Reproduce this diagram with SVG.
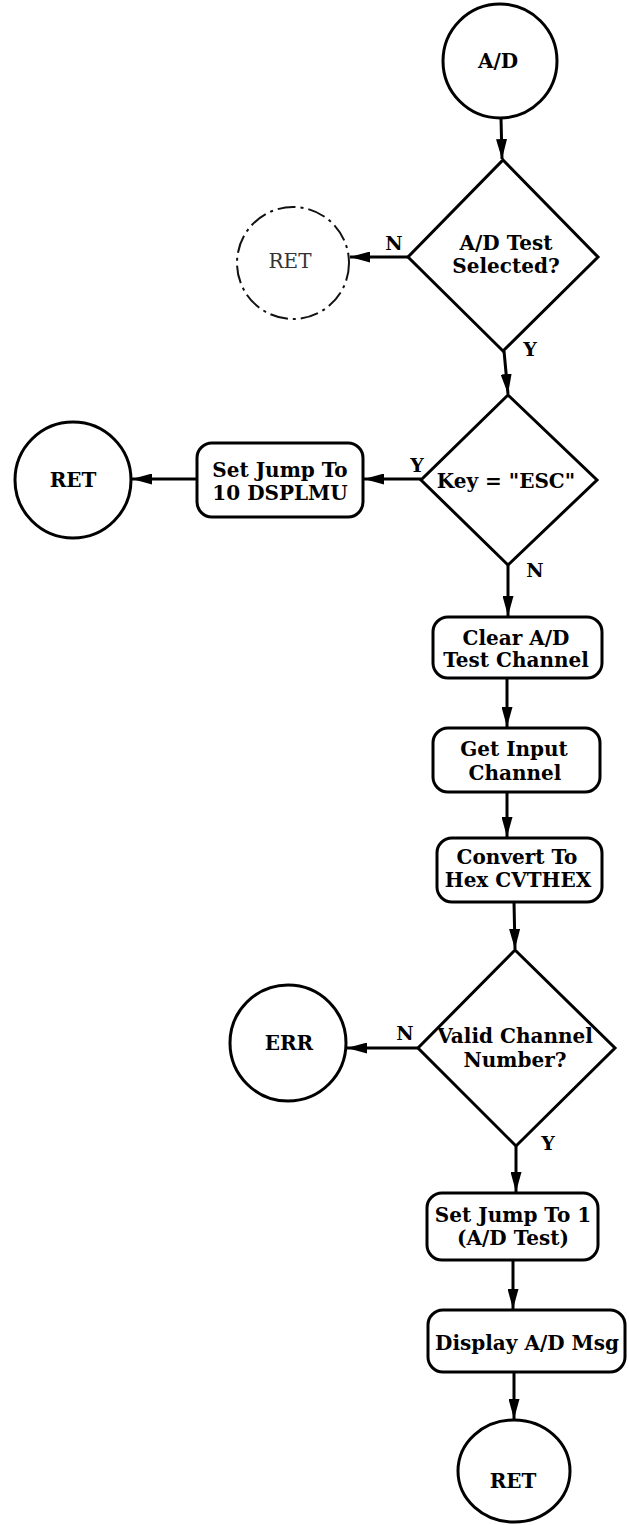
<svg xmlns="http://www.w3.org/2000/svg" width="629" height="1525" viewBox="0 0 629 1525">
  <style>
    .shape { fill: #fff; stroke: #000; stroke-width: 3; }
    .faint { fill: #fff; stroke: #111; stroke-width: 2; stroke-dasharray: 18 5 3 5; }
    .edge { fill: none; stroke: #000; stroke-width: 3; marker-end: url(#arrow); }
    text { font-family: "DejaVu Serif", "Liberation Serif", serif; font-weight: bold; font-size: 20px; fill: #000; text-anchor: middle; }
    .lbl { font-size: 19px; }
    .dim { font-weight: normal; fill: #333; }
  </style>
  <defs>
    <marker id="arrow" markerUnits="userSpaceOnUse" markerWidth="20" markerHeight="11" refX="20" refY="5.5" orient="auto">
      <path d="M0,0 L20,5.5 L0,11 z" fill="#000"/>
    </marker>
  </defs>
  <rect width="629" height="1525" fill="#fff"/>

  <!-- connectors -->
  <g id="connectors">
    <line class="edge" x1="501" y1="118" x2="502" y2="159"/>
    <line class="edge" x1="408" y1="257" x2="350" y2="257"/>
    <line class="edge" x1="504" y1="351" x2="508" y2="394"/>
    <line class="edge" x1="421" y1="479" x2="364" y2="479"/>
    <line class="edge" x1="197" y1="479" x2="132" y2="479"/>
    <line class="edge" x1="508" y1="565" x2="508" y2="616"/>
    <line class="edge" x1="507" y1="678" x2="507" y2="727"/>
    <line class="edge" x1="507" y1="792" x2="507" y2="837"/>
    <line class="edge" x1="514" y1="902" x2="515" y2="949"/>
    <line class="edge" x1="418" y1="1048" x2="347" y2="1048"/>
    <line class="edge" x1="516" y1="1146" x2="516" y2="1192"/>
    <line class="edge" x1="513" y1="1260" x2="513" y2="1309"/>
    <line class="edge" x1="514" y1="1372" x2="514" y2="1419"/>
  </g>

  <!-- nodes -->
  <g id="start-ad">
    <circle class="shape" cx="500" cy="61" r="57"/>
    <text x="498" y="68">A/D</text>
  </g>

  <g id="dec-test-selected">
    <polygon class="shape" points="503,160 598,257 503,351 408,257"/>
    <text x="506" y="250">A/D Test</text>
    <text x="506" y="273">Selected?</text>
    <text class="lbl" x="394" y="250">N</text>
    <text class="lbl" x="530" y="356">Y</text>
  </g>

  <g id="ret-faint">
    <circle class="faint" cx="293" cy="263" r="56"/>
    <text class="dim" x="290" y="268">RET</text>
  </g>

  <g id="dec-key-esc">
    <polygon class="shape" points="508,395 597,480 508,565 421,480"/>
    <text x="506" y="488">Key = "ESC"</text>
    <text class="lbl" x="417" y="472">Y</text>
    <text class="lbl" x="535" y="577">N</text>
  </g>

  <g id="set-jump-10">
    <rect class="shape" x="197" y="443" width="166" height="74" rx="15"/>
    <text x="280" y="477">Set Jump To</text>
    <text x="280" y="500">10 DSPLMU</text>
  </g>

  <g id="ret-left">
    <circle class="shape" cx="73" cy="480" r="58"/>
    <text x="73" y="487">RET</text>
  </g>

  <g id="clear-ad">
    <rect class="shape" x="433" y="617" width="169" height="61" rx="15"/>
    <text x="516" y="645">Clear A/D</text>
    <text x="516" y="667">Test Channel</text>
  </g>

  <g id="get-input">
    <rect class="shape" x="433" y="728" width="167" height="64" rx="15"/>
    <text x="514" y="756">Get Input</text>
    <text x="515" y="780">Channel</text>
  </g>

  <g id="convert-hex">
    <rect class="shape" x="437" y="838" width="165" height="64" rx="15"/>
    <text x="517" y="864">Convert To</text>
    <text x="518" y="887">Hex CVTHEX</text>
  </g>

  <g id="dec-valid-channel">
    <polygon class="shape" points="515,950 615,1048 516,1146 418,1048"/>
    <text x="515" y="1043">Valid Channel</text>
    <text x="515" y="1067">Number?</text>
    <text class="lbl" x="405" y="1040">N</text>
    <text class="lbl" x="548" y="1150">Y</text>
  </g>

  <g id="err">
    <circle class="shape" cx="288" cy="1043" r="58"/>
    <text x="289" y="1050">ERR</text>
  </g>

  <g id="set-jump-1">
    <rect class="shape" x="427" y="1193" width="171" height="67" rx="15"/>
    <text x="513" y="1222">Set Jump To 1</text>
    <text x="513" y="1245">(A/D Test)</text>
  </g>

  <g id="display-msg">
    <rect class="shape" x="428" y="1310" width="197" height="62" rx="15"/>
    <text x="527" y="1350">Display A/D Msg</text>
  </g>

  <g id="ret-end">
    <ellipse class="shape" cx="514" cy="1471" rx="56" ry="51"/>
    <text x="513" y="1488">RET</text>
  </g>
</svg>
